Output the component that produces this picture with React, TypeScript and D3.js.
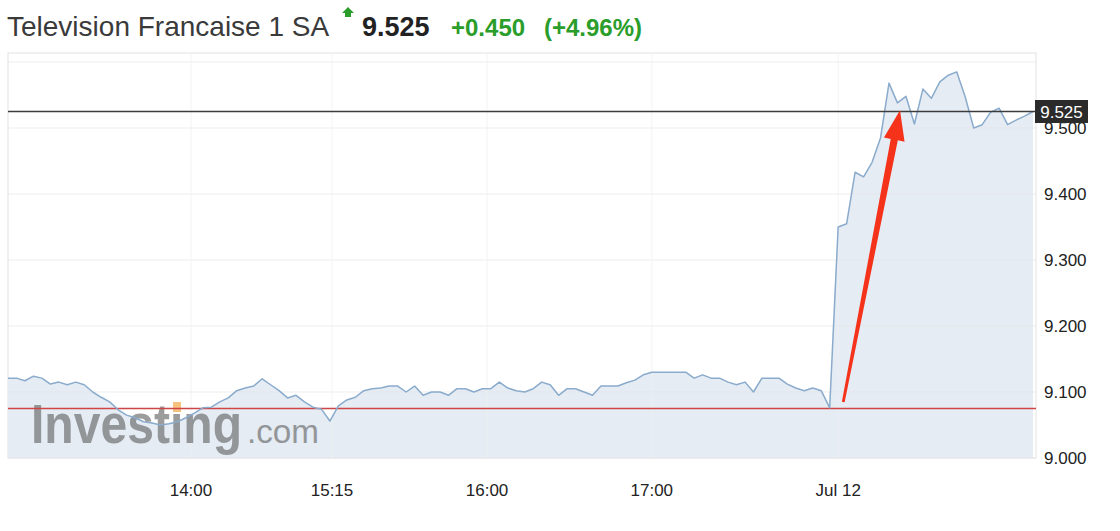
import React from "react";
import * as d3 from "d3";

// ---- data ----
const title = "Television Francaise 1 SA";
const lastPrice = 9.525;
const change = "+0.450";
const changePct = "(+4.96%)";
const prevClose = 9.075;

// Jul 11 session (intraday closes)
const prevSession: number[] = [
  9.121, 9.121, 9.117, 9.124, 9.121, 9.112, 9.115, 9.111, 9.115, 9.111,
  9.100, 9.092, 9.085, 9.073, 9.065, 9.061, 9.055, 9.053, 9.050,
  9.052, 9.055, 9.061, 9.068, 9.076, 9.077, 9.085, 9.091, 9.102, 9.106,
  9.109, 9.120, 9.111, 9.102, 9.091, 9.095, 9.085, 9.077, 9.074, 9.056,
  9.079, 9.088, 9.092, 9.102, 9.105, 9.106, 9.109, 9.109, 9.100, 9.109,
  9.095, 9.100, 9.100, 9.095, 9.105, 9.105, 9.100, 9.105, 9.105, 9.115,
  9.106, 9.102, 9.100, 9.105, 9.115, 9.111, 9.095, 9.105, 9.105, 9.100,
  9.095, 9.109, 9.109, 9.109, 9.114, 9.118, 9.126, 9.130, 9.130, 9.130,
  9.130, 9.130, 9.121, 9.126, 9.121, 9.121, 9.115, 9.111, 9.115, 9.100,
  9.121, 9.121, 9.121, 9.112, 9.106, 9.102, 9.106, 9.102, 9.076,
];
// Jul 12 session
const jul12Session: number[] = [
  9.350, 9.355, 9.433, 9.426, 9.448, 9.485, 9.568, 9.538, 9.548, 9.506,
  9.559, 9.545, 9.570, 9.580, 9.585, 9.547, 9.500, 9.505, 9.524, 9.530,
  9.505, 9.512, 9.518, 9.525,
];

// x tick labels, positioned at sample index
const xTickLabels = ["14:00", "15:15", "16:00", "17:00", "Jul 12"];
const xTickIndex = [21.6, 38.25, 56.55, 76.0, 98.0];

const yTicks = [9.0, 9.1, 9.2, 9.3, 9.4, 9.5];
const yGrid = [9.0, 9.1, 9.2, 9.3, 9.4, 9.5, 9.6];

// annotation arrow (index, value)
const arrowFrom = { i: 98.6, v: 9.085 };
const arrowTo = { i: 105.3, v: 9.527 };

const FONT = "'Liberation Sans', Arial, Helvetica, sans-serif";

export default function App() {
  const W = 1120;
  const H = 531;
  const left = 8;
  const right = 1036;
  const top = 53;
  const bottom = 458;

  const values = [...prevSession, ...jul12Session];
  const data = values.map((v, i) => ({ i, v }));

  const x = d3.scaleLinear().domain([0, values.length - 1]).range([left, 1033]);
  const y = d3
    .scaleLinear()
    .domain([9.0, 9.0 + (bottom - top) / 660])
    .range([bottom, top]);

  const area = d3
    .area<{ i: number; v: number }>()
    .x((d) => x(d.i))
    .y0(bottom)
    .y1((d) => y(d.v));
  const line = d3
    .line<{ i: number; v: number }>()
    .x((d) => x(d.i))
    .y((d) => y(d.v));

  // arrow polygon
  const ax0 = x(arrowFrom.i), ay0 = y(arrowFrom.v);
  const ax1 = x(arrowTo.i), ay1 = y(arrowTo.v);
  const dx = ax1 - ax0, dy = ay1 - ay0;
  const len = Math.sqrt(dx * dx + dy * dy);
  const ux = dx / len, uy = dy / len;
  const px = -uy, py = ux;
  const headLen = 30, headHalf = 10.5;
  const bx = ax1 - ux * headLen, by = ay1 - uy * headLen;
  const w0 = 1.4, w1 = 3.6;
  const arrowPts = [
    [ax0 + px * w0, ay0 + py * w0],
    [bx + px * w1, by + py * w1],
    [bx + px * headHalf, by + py * headHalf],
    [ax1, ay1],
    [bx - px * headHalf, by - py * headHalf],
    [bx - px * w1, by - py * w1],
    [ax0 - px * w0, ay0 - py * w0],
  ]
    .map((p) => p.join(","))
    .join(" ");

  const green = "#2a9d2a";

  return (
    <svg
      width={W}
      height={H}
      style={{ position: "absolute", left: 0, top: 0, background: "#fff" }}
      fontFamily={FONT}
    >
      {/* header */}
      <text x={7} y={36} fontSize={28} fill="#3a3a3a">
        {title}
      </text>
      <path
        d="M348,7 L354,13 L351,13 L351,17 L345,17 L345,13 L342,13 Z"
        fill={green}
      />
      <text x={362} y={36} fontSize={27} fontWeight="bold" fill="#222">
        {lastPrice.toFixed(3)}
      </text>
      <text x={451} y={36} fontSize={24} fontWeight="bold" fill={green}>
        {change}
      </text>
      <text x={544} y={36} fontSize={24} fontWeight="bold" fill={green}>
        {changePct}
      </text>

      {/* plot frame */}
      <rect x={left} y={top} width={right - left} height={bottom - top} fill="#fff" stroke="#e2e2e2" strokeWidth={1} />

      {/* area fill */}
      <path d={area(data) || ""} fill="#e5ecf4" />

      {/* grid */}
      {yGrid.map((t) => (
        <line key={"gy" + t} x1={left} x2={right} y1={y(t)} y2={y(t)} stroke="#e6e6e6" strokeOpacity={0.7} strokeWidth={1} />
      ))}
      {xTickIndex.map((t, k) => (
        <line key={"gx" + k} x1={x(t)} x2={x(t)} y1={top} y2={bottom} stroke="#eef0f3" strokeOpacity={0.8} strokeWidth={1} />
      ))}

      {/* watermark */}
      <g opacity={0.66}>
        <text x={31} y={443} fontSize={55} fontWeight="bold" fill="#6a6a6a" textLength={211} lengthAdjust="spacingAndGlyphs">
          Investing
        </text>
        <rect x={173} y={402} width={8} height={10} fill="#f4a23c" />
        <text x={247} y={443} fontSize={34} fill="#6a6a6a" textLength={72} lengthAdjust="spacingAndGlyphs">
          .com
        </text>
      </g>

      {/* previous close */}
      <line x1={left} x2={right} y1={y(prevClose)} y2={y(prevClose)} stroke="#cf4444" strokeWidth={1.5} />

      {/* price line */}
      <path d={line(data) || ""} fill="none" stroke="#8aabcc" strokeWidth={1.5} strokeLinejoin="round" />

      {/* last price line */}
      <line x1={left} x2={right} y1={y(lastPrice)} y2={y(lastPrice)} stroke="#3c3c3c" strokeWidth={1.5} />

      {/* y axis labels */}
      {yTicks.map((t) => (
        <text key={"yl" + t} x={1044} y={y(t) + 6} fontSize={17} fill="#222">
          {t.toFixed(3)}
        </text>
      ))}
      {/* last price badge */}
      <rect x={1035} y={y(lastPrice) - 11.5} width={53} height={23} fill="#2b2b2b" />
      <text x={1061.5} y={y(lastPrice) + 6} fontSize={17} fill="#fff" textAnchor="middle">
        {lastPrice.toFixed(3)}
      </text>

      {/* x axis labels */}
      {xTickLabels.map((l, k) => (
        <text key={"xl" + k} x={x(xTickIndex[k])} y={496} fontSize={17} fill="#222" textAnchor="middle">
          {l}
        </text>
      ))}

      {/* annotation arrow */}
      <polygon points={arrowPts} fill="#f5321a" />
    </svg>
  );
}
